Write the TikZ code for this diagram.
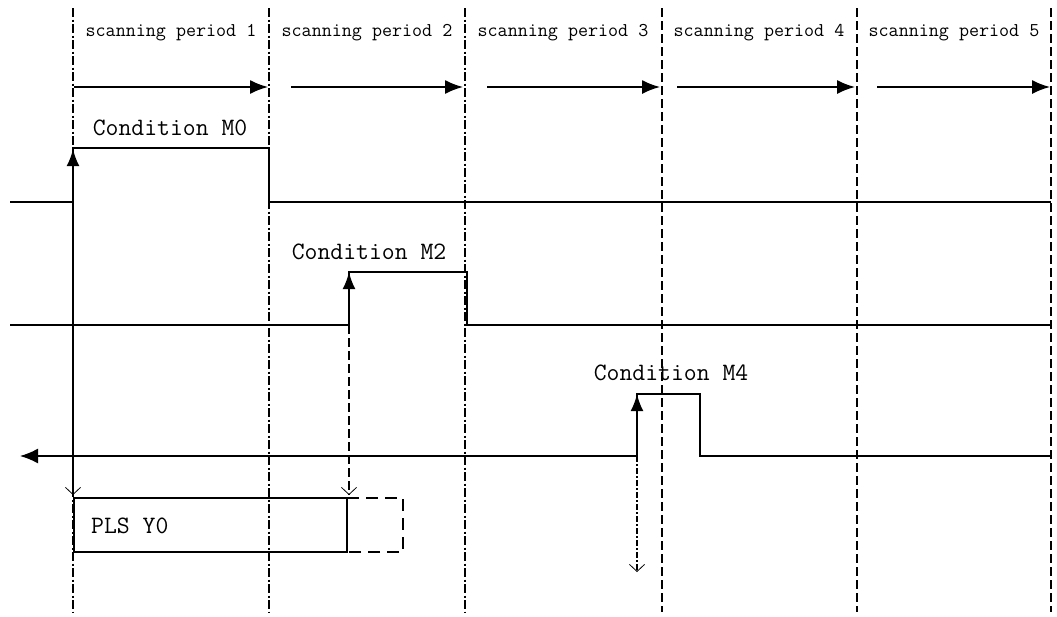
\documentclass[tikz,border=0pt]{standalone}
\usetikzlibrary{arrows.meta}
\begin{document}
\begin{tikzpicture}[x=1pt,y=-1pt,
  divider/.style={line width=1.3pt, dash pattern=on 9pt off 2.5pt on 2pt off 2.5pt},
  divthin/.style={line width=1.1pt, dash pattern=on 9pt off 4pt},
  sig/.style={line width=1.6pt},
  scanarr/.style={line width=1.6pt, -{Latex[length=18pt,width=14pt]}},
  uparr/.style={line width=2.2pt, -{Latex[length=17pt,width=13pt]}},
  openarr/.style={-{Straight Barb[length=7pt,width=15pt,line width=0.8pt]}},
  scantext/.style={font=\ttfamily\fontsize{19.5}{20}\selectfont, inner sep=0pt},
  condtext/.style={font=\ttfamily\fontsize{25}{25}\selectfont, inner sep=0pt},
  outbox/.style={line width=2.8pt, dash pattern=on 12pt off 7pt}
]
\useasboundingbox (0,0) rectangle (1057,616);

% dividers
\foreach \n/\x in {1/73,2/269,3/465,4/662,5/857,6/1051}{
  \coordinate (d\n t) at (\x,8);
  \coordinate (d\n b) at (\x,612);
}
\draw[divider] (d1t) -- (d1b);
\draw[divider] (d2t) -- (d2b);
\draw[divider] (d3t) -- (d3b);
\draw[divthin] (d4t) -- (d4b);
\draw[divthin] (d5t) -- (d5b);
\draw[divthin] (d6t) -- (d6b);

% scanning period labels
\node[scantext] (sp1) at (171,33) {scanning period 1};
\node[scantext] (sp2) at (367,33) {scanning period 2};
\node[scantext] (sp3) at (563,33) {scanning period 3};
\node[scantext] (sp4) at (759,33) {scanning period 4};
\node[scantext] (sp5) at (954,33) {scanning period 5};

% scanning arrows
\coordinate (a1s) at (74,87);  \coordinate (a1e) at (268,87);
\coordinate (a2s) at (291,87); \coordinate (a2e) at (463,87);
\coordinate (a3s) at (487,87); \coordinate (a3e) at (660,87);
\coordinate (a4s) at (677,87); \coordinate (a4e) at (855,87);
\coordinate (a5s) at (877,87); \coordinate (a5e) at (1050,87);
\draw[scanarr] (a1s) -- (a1e);
\draw[scanarr] (a2s) -- (a2e);
\draw[scanarr] (a3s) -- (a3e);
\draw[scanarr] (a4s) -- (a4e);
\draw[scanarr] (a5s) -- (a5e);

% signal M0
\coordinate (s1a) at (10,202);
\coordinate (s1b) at (73,202);
\coordinate (s1c) at (73,148);
\coordinate (s1d) at (269,148);
\coordinate (s1e) at (269,202);
\coordinate (s1f) at (1051,202);
\draw[sig] (s1a) -- (s1b) -- (s1c) -- (s1d) -- (s1e) -- (s1f);
\node[condtext] (c0) at (170,128) {Condition M0};

% signal M2
\coordinate (s2a) at (10,325);
\coordinate (s2b) at (349,325);
\coordinate (s2c) at (349,272);
\coordinate (s2d) at (467,272);
\coordinate (s2e) at (467,325);
\coordinate (s2f) at (1051,325);
\draw[sig] (s2a) -- (s2b) -- (s2c) -- (s2d) -- (s2e) -- (s2f);
\node[condtext] (c2) at (369,252) {Condition M2};

% signal M4
\coordinate (s3a) at (20,456);
\coordinate (s3b) at (637,456);
\coordinate (s3c) at (637,394);
\coordinate (s3d) at (700,394);
\coordinate (s3e) at (700,456);
\coordinate (s3f) at (1051,456);
\draw[sig, -{Latex[length=18pt,width=15pt]}] (s3b) -- (s3a);
\draw[sig] (s3b) -- (s3c) -- (s3d) -- (s3e) -- (s3f);
\node[condtext] (c4) at (671,373) {Condition M4};

% PLS box
\coordinate (p1) at (74,498);
\coordinate (p2) at (347,552);
\coordinate (q1) at (347,498);
\coordinate (q2) at (403,552);
\draw[sig] (p1) rectangle (p2);
\node[condtext, anchor=west] (pls) at (91,526) {PLS Y0};
\draw[outbox] (q1) -| (q2) -| (q1);
\draw[line width=2.8pt] (q1) -- (q1 |- q2);

% edge arrows
\draw[uparr] (s1b) -- (73,149);
\draw[line width=2.2pt, dash pattern=on 10pt off 2pt on 2pt off 2pt, openarr] (s1b) -- (73,495);
\draw[uparr] (s2b) -- (s2c);
\draw[line width=1.1pt, dash pattern=on 9pt off 4pt, openarr] (s2b) -- (349,495);
\draw[uparr] (s3b) -- (s3c);
\draw[line width=2.2pt, dash pattern=on 6pt off 2pt on 2pt off 2pt, openarr] (s3b) -- (637,572);
\end{tikzpicture}
\end{document}
